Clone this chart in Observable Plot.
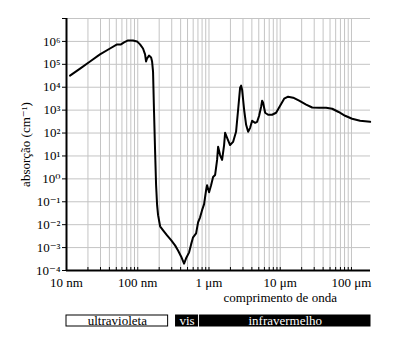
<!DOCTYPE html>
<html>
<head>
<meta charset="utf-8">
<script src="https://cdn.jsdelivr.net/npm/d3@7"></script>
<script src="https://cdn.jsdelivr.net/npm/@observablehq/plot@0.6"></script>
<style>
  html, body { margin: 0; padding: 0; background: #fff; }
  #chart { width: 393px; height: 345px; overflow: hidden; }
  #chart svg { display: block; }
  #chart svg, #chart svg text { font-family: "Liberation Serif", "DejaVu Serif", serif !important; }
</style>
</head>
<body>
<div id="chart"></div>
<script>
// ---- data ----
const wavelengthNm = [
  11.2, 15.5, 21.4, 29.5, 40.8, 51.2, 58.2, 64.2, 73.1, 85.9, 97.7, 107.7, 118.6, 126.7, 130.8,
  135, 144, 154, 159, 164, 169, 175, 181, 187, 193, 206, 227, 258, 294, 334, 368, 406, 447,
  477, 526, 561, 598, 659, 703, 750, 800, 854, 911, 940, 1003, 1070, 1142, 1218, 1300, 1343,
  1432, 1528, 1630, 1684, 1796, 1977, 2178, 2399, 2564, 2735, 2825, 2918, 3113, 3321, 3543,
  3779, 4031, 4439, 4740, 5056, 5393, 5570, 5753, 6137, 6758, 7690, 8750, 9970, 11350, 12900,
  15180, 18420, 23100, 28100, 35200, 44100, 53600, 66000, 81500, 102000, 132000, 183000
];
const absorption = [
  3.2e4, 6.5e4, 1.33e5, 2.7e5, 4.9e5, 7.4e5, 7.4e5, 9.0e5, 1.1e6, 1.1e6, 1.0e6, 7.4e5, 4.9e5, 2.7e5, 1.33e5,
  1.8e5, 2.4e5, 2.0e5, 1.33e5, 4.8e4, 1.04e3, 18, 0.53, 0.071, 0.026, 0.0085, 0.0057, 0.0034, 0.0021, 0.00125, 0.00075, 0.00041, 0.00020,
  0.00034, 0.00062, 0.00138, 0.0028, 0.0042, 0.0127, 0.021, 0.043, 0.079, 0.32, 0.53, 0.26, 0.53, 1.2, 1.47, 6.7, 25,
  11, 6.7, 30, 102, 62, 30, 41, 113, 1040, 9600, 11700, 7850, 1040, 229, 113,
  169, 343, 280, 310, 568, 1410, 2580, 2110, 769, 629, 629, 769, 1560, 3160, 3870,
  3500, 2580, 1730, 1300, 1270, 1270, 1150, 830, 568, 420, 343, 310
];

const xDomain = [10, 185000];
const yDomain = [1e-4, 1e7];
const xTickValues = [10, 100, 1000, 10000, 100000];
const xTickLabels = ["10 nm", "100 nm", "1 μm", "10 μm", "100 μm"];
const yTickValues = [1e-4, 1e-3, 1e-2, 1e-1, 1, 10, 100, 1e3, 1e4, 1e5, 1e6];
const yTitle = "absorção (cm⁻¹)";
const xTitle = "comprimento de onda";
const xTitleAt = 10000;

const bandName = ["ultravioleta", "vis", "infravermelho"];
const bandStart = [10, 345, 750];
const bandEnd = [267, 703, 185000];
const bandFill = ["white", "black", "black"];
const bandTextColor = ["black", "white", "white"];
const bandWeight = ["normal", "bold", "bold"];

// ---- derived ----
const data = wavelengthNm.map((w, i) => ({w, a: absorption[i]}));
const minor = [];
for (let k = 1; k <= 5; k++) for (let m = 1; m <= 9; m++) {
  const v = m * 10 ** k;
  if (v >= xDomain[0] && v <= xDomain[1]) minor.push(v);
}
const decades = [];
for (let k = -4; k <= 7; k++) decades.push(10 ** k);
const sup = {"-": "⁻", "0": "⁰", "1": "¹", "2": "²", "3": "³", "4": "⁴", "5": "⁵", "6": "⁶", "7": "⁷", "8": "⁸", "9": "⁹"};
const fmtY = d => "10" + String(Math.round(Math.log10(d))).split("").map(c => sup[c]).join("");
const fmtX = d => xTickLabels[xTickValues.indexOf(d)] ?? "";

const font = "Liberation Serif, DejaVu Serif, serif";
const W = 393, mL = 66, mR = 23;

const main = Plot.plot({
  width: W, height: 308,
  marginLeft: mL, marginRight: mR, marginTop: 18, marginBottom: 38,
  style: {fontFamily: font, fontSize: "13px", color: "black", background: "white"},
  x: {type: "log", domain: xDomain},
  y: {type: "log", domain: yDomain},
  marks: [
    Plot.ruleX(minor, {stroke: "#c4c4c4", strokeWidth: 1}),
    Plot.ruleY(decades, {stroke: "#c4c4c4", strokeWidth: 1}),
    Plot.axisY({ticks: yTickValues, tickFormat: fmtY, tickSize: 4, tickPadding: 2, fontSize: 13,
      label: yTitle, labelAnchor: "center", labelOffset: 46, labelArrow: "none"}),
    Plot.axisY({ticks: [1e7], tickFormat: () => "", tickSize: 4, label: null}),
    Plot.axisX({ticks: minor, tickFormat: () => "", tickSize: -3, label: null}),
    Plot.axisX({ticks: xTickValues, tickFormat: fmtX, tickSize: 0, tickPadding: 7, fontSize: 13, label: null}),
    Plot.text([xTitle], {x: () => xTitleAt, frameAnchor: "bottom", dy: 31, fontSize: 13, text: d => d}),
    Plot.ruleX([xDomain[0]], {stroke: "black", strokeWidth: 2}),
    Plot.ruleY([yDomain[0]], {stroke: "black", strokeWidth: 2}),
    Plot.line(data, {x: "w", y: "a", stroke: "black", strokeWidth: 2, strokeLinejoin: "round"})
  ]
});

const bands = bandName.map((n, i) => ({n, s: bandStart[i], e: bandEnd[i], f: bandFill[i], t: bandTextColor[i], b: bandWeight[i]}));
const band = Plot.plot({
  width: W, height: 37,
  marginLeft: mL, marginRight: mR, marginTop: 7, marginBottom: 19,
  style: {fontFamily: font, fontSize: "13px", background: "white"},
  x: {type: "log", domain: xDomain, axis: null},
  marks: [
    Plot.rect(bands, {x1: "s", x2: "e", fill: "f", stroke: "black", strokeWidth: 1}),
    Plot.text(bands, {x: d => Math.sqrt(d.s * d.e), frameAnchor: "middle", text: "n", fill: "t", fontWeight: "b", fontSize: 13})
  ]
});

document.getElementById("chart").append(main, band);
</script>
</body>
</html>
